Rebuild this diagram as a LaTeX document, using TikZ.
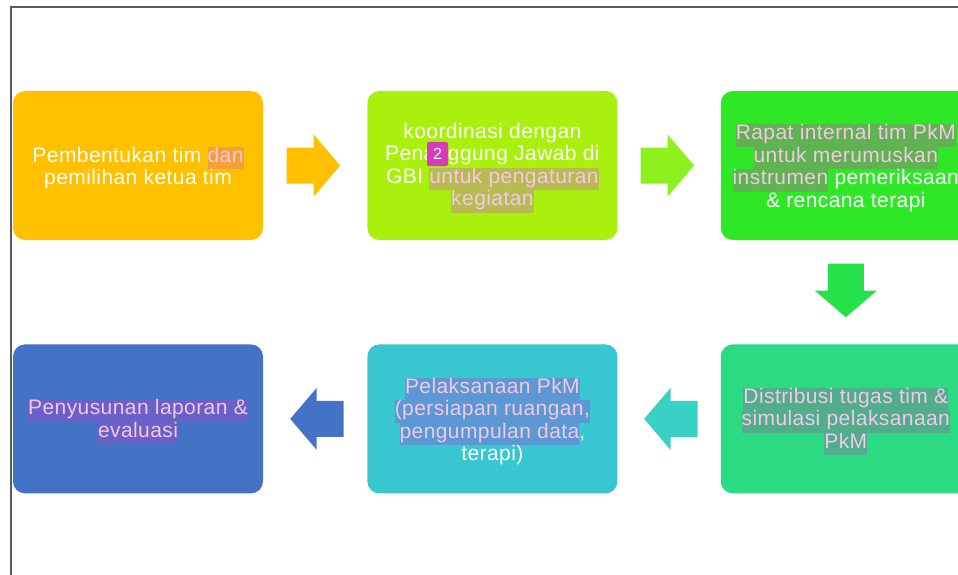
\documentclass[tikz,border=0pt]{standalone}
\usepackage{fontspec}
\setmainfont[LetterSpace=2]{Liberation Sans}
\usetikzlibrary{positioning,calc}

\definecolor{bingkai}{RGB}{90,90,90}
\definecolor{bkuning}{RGB}{255,192,0}
\definecolor{bhijaumuda}{RGB}{170,240,14}
\definecolor{bhijau}{RGB}{46,232,40}
\definecolor{bhijaulaut}{RGB}{42,219,131}
\definecolor{btosca}{RGB}{56,198,208}
\definecolor{bbiru}{RGB}{68,114,196}
\definecolor{phijaumuda}{RGB}{142,240,28}
\definecolor{phijau}{RGB}{37,226,74}
\definecolor{ptosca}{RGB}{56,210,196}
\definecolor{hloranye}{RGB}{245,160,55}
\definecolor{hlzaitun}{RGB}{184,188,80}
\definecolor{hlhijau}{RGB}{96,178,82}
\definecolor{hllaut}{RGB}{80,174,140}
\definecolor{hlbiru}{RGB}{92,152,212}
\definecolor{hlungu}{RGB}{106,96,200}
\definecolor{tekssorot}{RGB}{242,200,230}
\definecolor{tanda}{RGB}{216,58,188}

\newcommand{\sorot}[2]{{\setlength{\fboxsep}{0pt}\colorbox{#1}{\textcolor{tekssorot}{\strut #2}}}}

\begin{document}
\begin{tikzpicture}[x=1pt, y=-1pt,
  tahap/.style={rectangle, rounded corners=12pt, minimum width=250pt,
    minimum height=149pt, inner sep=0pt},
  isi/.style={inner sep=0pt, text=white, align=center,
    font=\fontsize{21}{22.5}\selectfont}]

  \useasboundingbox (0,0) rectangle (958,575);
  \draw[bingkai, line width=1.5pt] (11,575) -- (11,7) -- (958,7);

  % the six steps, upper row left to right, lower row right to left
  \node[tahap, fill=bkuning] (bentuk) at (138,165.5) {};
  \node[tahap, fill=bhijaumuda, right=104pt of bentuk] (koord) {};
  \node[tahap, fill=bhijau, right=103pt of koord] (rapat) {};
  \node[tahap, fill=bhijaulaut, below=104pt of rapat] (distribusi) {};
  \node[tahap, fill=btosca, below=104pt of koord] (laksana) {};
  \node[tahap, fill=bbiru, below=104pt of bentuk] (laporan) {};

  % texts, a little below the middle of each box
  \node[isi] (tbentuk) at ([yshift=-2.5pt]bentuk.center)
    {Pembentukan tim \sorot{hloranye}{dan}\\pemilihan ketua tim};
  \node[isi] (tkoord) at ([yshift=-2.5pt]koord.center)
    {koordinasi dengan\\Penanggung Jawab di\\GBI \sorot{hlzaitun}{untuk pengaturan}\\\sorot{hlzaitun}{kegiatan}};
  \node[isi] (trapat) at ([yshift=-2.5pt]rapat.center)
    {\sorot{hlhijau}{Rapat internal tim PkM}\\\sorot{hlhijau}{untuk merumuskan}\\\sorot{hlhijau}{instrumen} pemeriksaan\\\& rencana terapi};
  \node[isi] (tdistribusi) at ([yshift=-2.5pt]distribusi.center)
    {\sorot{hllaut}{Distribusi tugas tim \&}\\\sorot{hllaut}{simulasi pelaksanaan}\\\sorot{hllaut}{PkM}};
  \node[isi] (tlaksana) at ([yshift=-2.5pt]laksana.center)
    {\sorot{hlbiru}{Pelaksanaan PkM}\\\sorot{hlbiru}{(persiapan ruangan,}\\\sorot{hlbiru}{pengumpulan data},\\terapi)};
  \node[isi] (tlaporan) at ([yshift=-2.5pt]laporan.center)
    {\sorot{hlungu}{Penyusunan laporan \&}\\\sorot{hlungu}{evaluasi}};

  % comment marker on the second box
  \node[fill=tanda, rounded corners=2pt, text=white, minimum width=21pt,
    minimum height=24pt, inner sep=0pt, font=\fontsize{16}{16}\selectfont]
    (catatan) at (437.5,154) {2};

  % block arrows between the steps
  \coordinate (p1) at ($(bentuk.east)!0.5!(koord.west)$);
  \coordinate (p2) at ($(koord.east)!0.5!(rapat.west)$);
  \coordinate (p3) at ($(rapat.south)!0.5!(distribusi.north)$);
  \coordinate (p4) at ($(distribusi.west)!0.5!(laksana.east)$);
  \coordinate (p5) at ($(laksana.west)!0.5!(laporan.east)$);
  \foreach \p/\r/\c in {p1/0/bkuning, p2/0/phijaumuda, p3/-90/phijau,
                        p4/180/ptosca, p5/180/bbiru}
    \fill[\c, shift={(\p)}, rotate=\r]
      (-28.5,-18) -- (-1.5,-18) -- (-1.5,-31) -- (25,0)
      -- (-1.5,31) -- (-1.5,18) -- (-28.5,18) -- cycle;

\end{tikzpicture}
\end{document}
